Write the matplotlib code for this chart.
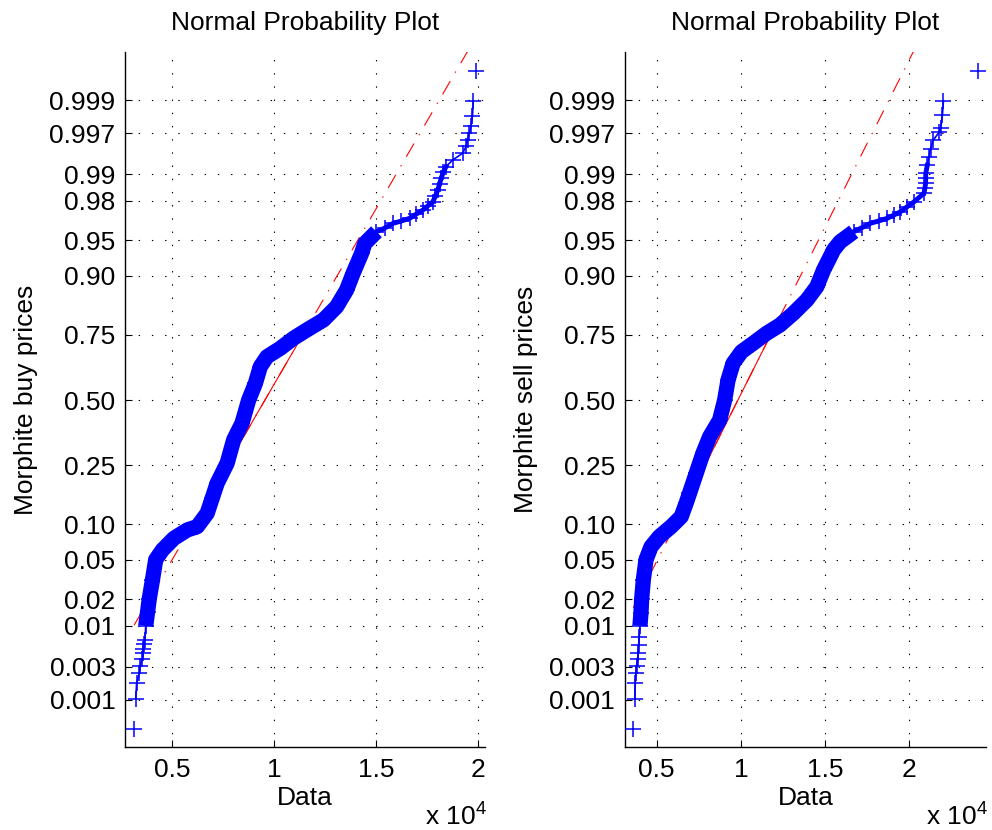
from statistics import NormalDist

import matplotlib
matplotlib.use("Agg")
import matplotlib.pyplot as plt
import numpy as np

plt.rcParams['font.family'] = ['Liberation Sans', 'DejaVu Sans']
plt.rcParams['mathtext.fontset'] = 'custom'
plt.rcParams['mathtext.rm'] = 'Liberation Sans'
plt.rcParams['lines.scale_dashes'] = False

# sorted prices, with the plotting probability of each one
buy_prob = [0.00035, 0.00104, 0.00176, 0.00244, 0.00311, 0.00383, 0.00454, 0.00511,
            0.00594, 0.00672, 0.0100, 0.0145, 0.0200, 0.0319, 0.0500, 0.0612,
            0.0772, 0.0903, 0.0960, 0.1216, 0.1565, 0.1955, 0.2573, 0.3402,
            0.4052, 0.5000, 0.5683, 0.6342, 0.6722, 0.7027, 0.7374, 0.7645,
            0.7950, 0.8317, 0.8713, 0.9040, 0.9346, 0.9467, 0.9585, 0.9617,
            0.9656, 0.9674, 0.9694, 0.9723, 0.9748, 0.9771, 0.9794, 0.9822,
            0.9847, 0.9869, 0.9888, 0.9906, 0.9919, 0.9933, 0.9945, 0.9955,
            0.9963, 0.9970, 0.9976, 0.99829, 0.99896, 0.99965]
buy_price = [3120, 3200, 3240, 3380, 3410, 3530, 3560, 3570,
             3610, 3650, 3690, 3780, 3860, 4020, 4180, 4510,
             5080, 5730, 6220, 6710, 6960, 7200, 7690, 8010,
             8420, 8750, 9080, 9320, 9650, 10300, 10950, 11600,
             12420, 13070, 13560, 13880, 14300, 14460, 15030, 15430,
             15840, 16250, 16660, 16990, 17310, 17540, 17800, 17930,
             18040, 18130, 18210, 18320, 18450, 18780, 19270, 19430,
             19510, 19590, 19680, 19750, 19790, 19920]

sell_prob = [0.00035, 0.00104, 0.00176, 0.00244, 0.00311, 0.00383, 0.00454, 0.00582,
             0.00739, 0.0100, 0.0140, 0.0200, 0.0319, 0.0500, 0.0654, 0.0796,
             0.0960, 0.1147, 0.1437, 0.1680, 0.2250, 0.2915, 0.3527, 0.4184,
             0.5000, 0.5816, 0.6473, 0.6905, 0.7204, 0.7540, 0.7800, 0.8140,
             0.8485, 0.8784, 0.9097, 0.9346, 0.9388, 0.9485, 0.9537, 0.9585,
             0.9622, 0.9656, 0.9675, 0.9694, 0.9716, 0.9738, 0.9768, 0.9794,
             0.9834, 0.9855, 0.9872, 0.9888, 0.9902, 0.9922, 0.9939, 0.9952,
             0.9963, 0.9971, 0.9975, 0.99833, 0.99897, 0.99965]
sell_price = [3610, 3710, 3730, 3770, 3810, 3870, 3910, 3930,
              3970, 4010, 4070, 4110, 4210, 4370, 4670, 5160,
              5860, 6460, 6750, 6950, 7350, 7750, 8150, 8740,
              9040, 9240, 9540, 10040, 10730, 11530, 12320, 13120,
              13920, 14510, 14910, 15410, 15500, 15900, 16300, 16700,
              17200, 17690, 18190, 18690, 19080, 19480, 19880, 20280,
              20870, 20930, 20970, 20975, 20980, 21070, 21170, 21270,
              21430, 21770, 21870, 21970, 22030, 24090]

# first and third quartile the fitted reference line goes through
buy_quartiles = [7680, 11420]
sell_quartiles = [7870, 11785]

prob_ticks = [0.001, 0.003, 0.01, 0.02, 0.05, 0.10, 0.25, 0.50,
              0.75, 0.90, 0.95, 0.98, 0.99, 0.997, 0.999]
prob_labels = ['0.001', '0.003', '0.01', '0.02', '0.05', '0.10', '0.25', '0.50',
               '0.75', '0.90', '0.95', '0.98', '0.99', '0.997', '0.999']
x_ticks = [5000, 10000, 15000, 20000]
x_labels = ['0.5', '1', '1.5', '2']

nd = NormalDist()
grid_style = (0, (1, 8.5))
FS = 19


def normplot(ax, prob, price, quartiles, xlim, ylabel):
    assert len(prob) == len(price)
    prob = np.array(prob)
    price = np.array(price, dtype=float)
    z = np.array([nd.inv_cdf(p) for p in prob])

    # reference line through the quartiles, solid between them, dash-dot beyond
    z1, z3 = nd.inv_cdf(0.25), nd.inv_cdf(0.75)
    slope = (z3 - z1) / (quartiles[1] - quartiles[0])
    cx = (quartiles[0] + quartiles[1]) / 2
    ends = np.array([price.min(), price.max()])
    ax.plot(ends, slope * (ends - cx), color='red', lw=0.8,
            linestyle=(0, (11, 7, 1, 7)), zorder=2)
    ax.plot(quartiles, [z1, z3], color='red', lw=0.8, zorder=2)

    # the dense middle of the sample shows as a solid band of markers
    dense = (prob >= 0.0095) & (prob <= 0.96)
    ax.plot(price[dense], z[dense], color='blue', lw=11,
            solid_capstyle='butt', solid_joinstyle='round', zorder=3)
    # upper tail: markers still overlap heavily
    upper = (prob >= 0.955) & (prob <= 0.993)
    ax.plot(price[upper], z[upper], color='blue', lw=3.5,
            solid_joinstyle='round', zorder=3)
    # overlapping markers in the tails merge into a thin stroke
    ax.plot(price[1:-1], z[1:-1], color='blue', lw=1.2, zorder=3)
    ax.plot(price, z, '+', color='blue', ms=11.5, mew=1.1, zorder=4)

    ax.set_xlim(*xlim)
    ax.set_ylim(-3.575, 3.585)
    ax.set_xticks(x_ticks, x_labels)
    ax.set_yticks([nd.inv_cdf(p) for p in prob_ticks], prob_labels)
    ax.tick_params(direction='in', length=5, width=0.8, labelsize=FS,
                   top=False, right=False)
    ax.tick_params(axis='x', pad=8)
    ax.tick_params(axis='y', pad=7)
    ax.spines[['right', 'top']].set_visible(False)
    ax.spines[['left', 'bottom']].set_linewidth(1.0)
    ax.grid(True, color='black', lw=0.8, linestyle=grid_style)
    ax.set_axisbelow(True)

    ax.set_title('Normal Probability Plot', fontsize=FS, pad=16)
    ax.set_xlabel('Data', fontsize=FS, labelpad=3)
    ax.set_ylabel(ylabel, fontsize=FS, labelpad=8)


fig = plt.figure(figsize=(9.92, 8.3), dpi=100)
ax_buy = fig.add_axes([0.126, 0.1, 0.363, 0.8373])
ax_sell = fig.add_axes([0.630, 0.1, 0.364, 0.8373])

normplot(ax_buy, buy_prob, buy_price, buy_quartiles, (2670, 20370),
         'Morphite buy prices')
normplot(ax_sell, sell_prob, sell_price, sell_quartiles, (3120, 24560),
         'Morphite sell prices')

fig.text(0.428, 0.006, r'x 10$^{4}$', fontsize=FS, va='baseline')
fig.text(0.933, 0.006, r'x 10$^{4}$', fontsize=FS, va='baseline')

fig.savefig('out.png', dpi=100)
